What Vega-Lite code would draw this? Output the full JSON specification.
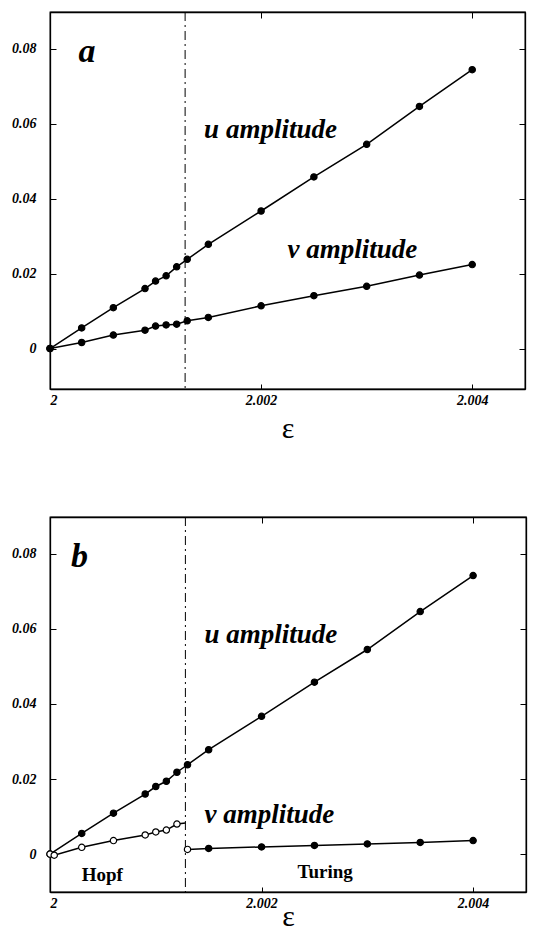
{
  "$schema": "https://vega.github.io/schema/vega-lite/v6.json",
  "background": "white",
  "padding": {"left": 10, "top": 10, "right": 0, "bottom": 5},
  "config": {
    "font": "Liberation Serif",
    "view": {"stroke": "black", "strokeWidth": 1.3},
    "axis": {
      "labelFont": "Liberation Serif",
      "labelFontStyle": "italic",
      "labelFontWeight": "bold",
      "labelFontSize": 14,
      "labelColor": "black",
      "domainColor": "black",
      "tickColor": "black",
      "grid": false,
      "titleFont": "Liberation Serif",
      "titleFontWeight": "normal",
      "titleFontSize": 30,
      "titleColor": "black"
    }
  },
  "datasets": {
    "pts": [
      {"p": "a", "s": "u", "x": 2.0, "y": 0.0, "m": "filled"},
      {"p": "a", "s": "u", "x": 2.0003, "y": 0.0055, "m": "filled"},
      {"p": "a", "s": "u", "x": 2.0006, "y": 0.0109, "m": "filled"},
      {"p": "a", "s": "u", "x": 2.0009, "y": 0.016, "m": "filled"},
      {"p": "a", "s": "u", "x": 2.001, "y": 0.018, "m": "filled"},
      {"p": "a", "s": "u", "x": 2.0011, "y": 0.0194, "m": "filled"},
      {"p": "a", "s": "u", "x": 2.0012, "y": 0.0218, "m": "filled"},
      {"p": "a", "s": "u", "x": 2.0013, "y": 0.0238, "m": "filled"},
      {"p": "a", "s": "u", "x": 2.0015, "y": 0.0278, "m": "filled"},
      {"p": "a", "s": "u", "x": 2.002, "y": 0.0367, "m": "filled"},
      {"p": "a", "s": "u", "x": 2.0025, "y": 0.0458, "m": "filled"},
      {"p": "a", "s": "u", "x": 2.003, "y": 0.0545, "m": "filled"},
      {"p": "a", "s": "u", "x": 2.0035, "y": 0.0646, "m": "filled"},
      {"p": "a", "s": "u", "x": 2.004, "y": 0.0744, "m": "filled"},
      {"p": "a", "s": "v", "x": 2.0, "y": 0.0, "m": "filled"},
      {"p": "a", "s": "v", "x": 2.0003, "y": 0.0016, "m": "filled"},
      {"p": "a", "s": "v", "x": 2.0006, "y": 0.0036, "m": "filled"},
      {"p": "a", "s": "v", "x": 2.0009, "y": 0.0049, "m": "filled"},
      {"p": "a", "s": "v", "x": 2.001, "y": 0.006, "m": "filled"},
      {"p": "a", "s": "v", "x": 2.0011, "y": 0.0063, "m": "filled"},
      {"p": "a", "s": "v", "x": 2.0012, "y": 0.0065, "m": "filled"},
      {"p": "a", "s": "v", "x": 2.0013, "y": 0.0074, "m": "filled"},
      {"p": "a", "s": "v", "x": 2.0015, "y": 0.0083, "m": "filled"},
      {"p": "a", "s": "v", "x": 2.002, "y": 0.0114, "m": "filled"},
      {"p": "a", "s": "v", "x": 2.0025, "y": 0.0141, "m": "filled"},
      {"p": "a", "s": "v", "x": 2.003, "y": 0.0166, "m": "filled"},
      {"p": "a", "s": "v", "x": 2.0035, "y": 0.0196, "m": "filled"},
      {"p": "a", "s": "v", "x": 2.004, "y": 0.0224, "m": "filled"},
      {"p": "b", "s": "u", "x": 2.0, "y": 0.0, "m": "filled"},
      {"p": "b", "s": "u", "x": 2.0003, "y": 0.0055, "m": "filled"},
      {"p": "b", "s": "u", "x": 2.0006, "y": 0.0109, "m": "filled"},
      {"p": "b", "s": "u", "x": 2.0009, "y": 0.016, "m": "filled"},
      {"p": "b", "s": "u", "x": 2.001, "y": 0.018, "m": "filled"},
      {"p": "b", "s": "u", "x": 2.0011, "y": 0.0194, "m": "filled"},
      {"p": "b", "s": "u", "x": 2.0012, "y": 0.0218, "m": "filled"},
      {"p": "b", "s": "u", "x": 2.0013, "y": 0.0238, "m": "filled"},
      {"p": "b", "s": "u", "x": 2.0015, "y": 0.0278, "m": "filled"},
      {"p": "b", "s": "u", "x": 2.002, "y": 0.0367, "m": "filled"},
      {"p": "b", "s": "u", "x": 2.0025, "y": 0.0458, "m": "filled"},
      {"p": "b", "s": "u", "x": 2.003, "y": 0.0545, "m": "filled"},
      {"p": "b", "s": "u", "x": 2.0035, "y": 0.0646, "m": "filled"},
      {"p": "b", "s": "u", "x": 2.004, "y": 0.0742, "m": "filled"},
      {"p": "b", "s": "vh", "x": 2.0, "y": 0.0, "m": "open"},
      {"p": "b", "s": "vh", "x": 2.00004, "y": -0.0003, "m": "open"},
      {"p": "b", "s": "vh", "x": 2.0003, "y": 0.0018, "m": "open"},
      {"p": "b", "s": "vh", "x": 2.0006, "y": 0.0036, "m": "open"},
      {"p": "b", "s": "vh", "x": 2.0009, "y": 0.0051, "m": "open"},
      {"p": "b", "s": "vh", "x": 2.001, "y": 0.0059, "m": "open"},
      {"p": "b", "s": "vh", "x": 2.0011, "y": 0.0064, "m": "open"},
      {"p": "b", "s": "vh", "x": 2.0012, "y": 0.008, "m": "open"},
      {"p": "b", "s": "vh", "x": 2.00128, "y": 0.0083, "m": "none"},
      {"p": "b", "s": "vt", "x": 2.0013, "y": 0.00125, "m": "open"},
      {"p": "b", "s": "vt", "x": 2.0015, "y": 0.0015, "m": "filled"},
      {"p": "b", "s": "vt", "x": 2.002, "y": 0.0019, "m": "filled"},
      {"p": "b", "s": "vt", "x": 2.0025, "y": 0.0023, "m": "filled"},
      {"p": "b", "s": "vt", "x": 2.003, "y": 0.0027, "m": "filled"},
      {"p": "b", "s": "vt", "x": 2.0035, "y": 0.0031, "m": "filled"},
      {"p": "b", "s": "vt", "x": 2.004, "y": 0.0036, "m": "filled"}
    ],
    "labels": [
      {"p": "a", "t": "a", "x": 2.00035, "y": 0.0791, "k": "big"},
      {"p": "a", "t": "u amplitude", "x": 2.00146, "y": 0.0583, "k": "amp"},
      {"p": "a", "t": "v amplitude", "x": 2.00225, "y": 0.0263, "k": "amp"},
      {"p": "b", "t": "b", "x": 2.00028, "y": 0.0792, "k": "big"},
      {"p": "b", "t": "u amplitude", "x": 2.00146, "y": 0.0584, "k": "amp"},
      {"p": "b", "t": "v amplitude", "x": 2.00146, "y": 0.0104, "k": "amp"},
      {"p": "b", "t": "Hopf", "x": 2.0003, "y": -0.0056, "k": "reg"},
      {"p": "b", "t": "Turing", "x": 2.00234, "y": -0.0048, "k": "reg"}
    ],
    "vline": [
      {"p": "a", "x": 2.00128},
      {"p": "b", "x": 2.00128}
    ]
  },
  "spacing": 71,
  "vconcat": [
    {
      "width": 475,
      "height": 377,
      "resolve": {"axis": {"x": "independent", "y": "independent"}},
      "layer": [
        {
          "data": {"name": "vline"},
          "transform": [{"filter": "datum.p === 'a'"}],
          "mark": {"type": "rule", "color": "black", "strokeWidth": 1, "strokeDash": [9, 4, 2, 4]},
          "encoding": {
            "x": {"field": "x", "type": "quantitative", "scale": {"domain": [2, 2.0045], "nice": false, "zero": false},
              "axis": {"orient": "top", "labels": false, "title": null, "values": [2, 2.002, 2.004], "tickSize": -6, "domainWidth": 1.3}}
          }
        },
        {
          "data": {"name": "pts"},
          "transform": [{"filter": "datum.p === 'a'"}],
          "mark": {"type": "line", "color": "black", "strokeWidth": 1.5},
          "encoding": {
            "x": {"field": "x", "type": "quantitative", "scale": {"domain": [2, 2.0045], "nice": false, "zero": false},
              "axis": {"orient": "bottom", "values": [2, 2.002, 2.004], "format": ".3~f", "tickSize": -5, "labelPadding": 9, "title": "ε", "titlePadding": 6, "domainWidth": 1.3}},
            "y": {"field": "y", "type": "quantitative", "scale": {"domain": [-0.0108, 0.0898], "nice": false, "zero": false},
              "axis": {"orient": "left", "values": [0, 0.02, 0.04, 0.06, 0.08], "format": ".2~f", "tickSize": -6, "labelPadding": 20, "title": null, "domainWidth": 1.3}},
            "detail": {"field": "s"}
          }
        },
        {
          "data": {"name": "pts"},
          "transform": [{"filter": "datum.p === 'a' && datum.m !== 'none'"}],
          "mark": {"type": "point", "shape": "circle", "size": 40, "strokeWidth": 1.2, "stroke": "black", "opacity": 1},
          "encoding": {
            "x": {"field": "x", "type": "quantitative", "axis": null},
            "y": {"field": "y", "type": "quantitative",
              "axis": {"orient": "right", "labels": false, "title": null, "values": [0, 0.02, 0.04, 0.06, 0.08], "tickSize": -6, "domainWidth": 1.3}},
            "fill": {"field": "m", "type": "nominal", "scale": {"domain": ["filled", "open"], "range": ["black", "white"]}, "legend": null}
          }
        },
        {
          "data": {"name": "labels"},
          "transform": [{"filter": "datum.p === 'a' && datum.k === 'big'"}],
          "mark": {"type": "text", "font": "Liberation Serif", "fontStyle": "italic", "fontWeight": "bold", "fontSize": 34, "align": "center", "baseline": "middle", "color": "black"},
          "encoding": {
            "x": {"field": "x", "type": "quantitative", "axis": null},
            "y": {"field": "y", "type": "quantitative", "axis": null},
            "text": {"field": "t"}
          }
        },
        {
          "data": {"name": "labels"},
          "transform": [{"filter": "datum.p === 'a' && datum.k === 'amp'"}],
          "mark": {"type": "text", "font": "Liberation Serif", "fontStyle": "italic", "fontWeight": "bold", "fontSize": 27, "align": "left", "baseline": "middle", "color": "black"},
          "encoding": {
            "x": {"field": "x", "type": "quantitative", "axis": null},
            "y": {"field": "y", "type": "quantitative", "axis": null},
            "text": {"field": "t"}
          }
        }
      ]
    },
    {
      "width": 476,
      "height": 375,
      "resolve": {"axis": {"x": "independent", "y": "independent"}},
      "layer": [
        {
          "data": {"name": "vline"},
          "transform": [{"filter": "datum.p === 'b'"}],
          "mark": {"type": "rule", "color": "black", "strokeWidth": 1, "strokeDash": [9, 4, 2, 4]},
          "encoding": {
            "x": {"field": "x", "type": "quantitative", "scale": {"domain": [2, 2.0045], "nice": false, "zero": false},
              "axis": {"orient": "top", "labels": false, "title": null, "values": [2, 2.002, 2.004], "tickSize": -6, "domainWidth": 1.3}}
          }
        },
        {
          "data": {"name": "pts"},
          "transform": [{"filter": "datum.p === 'b'"}],
          "mark": {"type": "line", "color": "black", "strokeWidth": 1.5},
          "encoding": {
            "x": {"field": "x", "type": "quantitative", "scale": {"domain": [2, 2.0045], "nice": false, "zero": false},
              "axis": {"orient": "bottom", "values": [2, 2.002, 2.004], "format": ".3~f", "tickSize": -5, "labelPadding": 9, "title": "ε", "titlePadding": -9, "domainWidth": 1.3}},
            "y": {"field": "y", "type": "quantitative", "scale": {"domain": [-0.0101, 0.0898], "nice": false, "zero": false},
              "axis": {"orient": "left", "values": [0, 0.02, 0.04, 0.06, 0.08], "format": ".2~f", "tickSize": -6, "labelPadding": 20, "title": null, "domainWidth": 1.3}},
            "detail": {"field": "s"}
          }
        },
        {
          "data": {"name": "pts"},
          "transform": [{"filter": "datum.p === 'b' && datum.m !== 'none'"}],
          "mark": {"type": "point", "shape": "circle", "size": 40, "strokeWidth": 1.2, "stroke": "black", "opacity": 1},
          "encoding": {
            "x": {"field": "x", "type": "quantitative", "axis": null},
            "y": {"field": "y", "type": "quantitative",
              "axis": {"orient": "right", "labels": false, "title": null, "values": [0, 0.02, 0.04, 0.06, 0.08], "tickSize": -6, "domainWidth": 1.3}},
            "fill": {"field": "m", "type": "nominal", "scale": {"domain": ["filled", "open"], "range": ["black", "white"]}, "legend": null}
          }
        },
        {
          "data": {"name": "labels"},
          "transform": [{"filter": "datum.p === 'b' && datum.k === 'big'"}],
          "mark": {"type": "text", "font": "Liberation Serif", "fontStyle": "italic", "fontWeight": "bold", "fontSize": 34, "align": "center", "baseline": "middle", "color": "black"},
          "encoding": {
            "x": {"field": "x", "type": "quantitative", "axis": null},
            "y": {"field": "y", "type": "quantitative", "axis": null},
            "text": {"field": "t"}
          }
        },
        {
          "data": {"name": "labels"},
          "transform": [{"filter": "datum.p === 'b' && datum.k === 'amp'"}],
          "mark": {"type": "text", "font": "Liberation Serif", "fontStyle": "italic", "fontWeight": "bold", "fontSize": 27, "align": "left", "baseline": "middle", "color": "black"},
          "encoding": {
            "x": {"field": "x", "type": "quantitative", "axis": null},
            "y": {"field": "y", "type": "quantitative", "axis": null},
            "text": {"field": "t"}
          }
        },
        {
          "data": {"name": "labels"},
          "transform": [{"filter": "datum.p === 'b' && datum.k === 'reg'"}],
          "mark": {"type": "text", "font": "Liberation Serif", "fontWeight": "bold", "fontSize": 19, "align": "left", "baseline": "middle", "color": "black"},
          "encoding": {
            "x": {"field": "x", "type": "quantitative", "axis": null},
            "y": {"field": "y", "type": "quantitative", "axis": null},
            "text": {"field": "t"}
          }
        }
      ]
    }
  ]
}
